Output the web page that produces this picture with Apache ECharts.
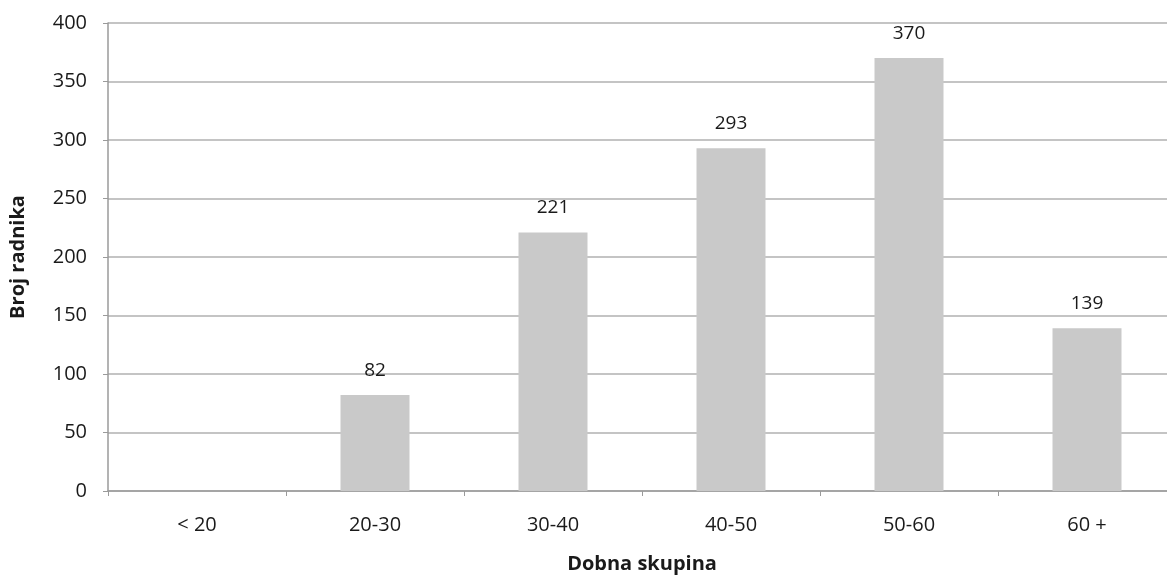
<!DOCTYPE html>
<html><head><meta charset="utf-8">
<script src="https://cdn.jsdelivr.net/npm/echarts@6/dist/echarts.min.js"></script>
<style>html,body{margin:0;padding:0;background:#fff;}#c{width:1167px;height:575px;}</style>
</head><body><div id="c"></div>
<script>
const categories = ['< 20', '20-30', '30-40', '40-50', '50-60', '60 +'];
const workers = [null, 82, 221, 293, 370, 139];
const yTicks = [0, 400, 50];
const xTitle = 'Dobna skupina';
const yTitle = 'Broj radnika';

const chart = echarts.init(document.getElementById('c'), null, {renderer: 'canvas'});
const font = 'Open Sans, Lato, sans-serif';
chart.setOption({
  animation: false,
  grid: {left: 108, top: 23, width: 1068, height: 468, outerBoundsMode: 'none', containLabel: false},
  xAxis: {
    type: 'category', data: categories,
    name: xTitle, nameLocation: 'middle', nameGap: 63,
    nameTextStyle: {fontFamily: font, fontWeight: 'bold', fontSize: 20, color: '#1a1a1a'},
    axisLine: {lineStyle: {color: '#9a9a9a', width: 1.5}},
    axisTick: {show: true, length: 5, lineStyle: {color: '#9a9a9a'}},
    axisLabel: {fontFamily: font, fontSize: 20, color: '#1a1a1a', margin: 24}
  },
  yAxis: {
    type: 'value', min: yTicks[0], max: yTicks[1], interval: yTicks[2],
    name: yTitle, nameLocation: 'middle', nameGap: 80, nameRotate: 90,
    nameTextStyle: {fontFamily: font, fontWeight: 'bold', fontSize: 20, color: '#1a1a1a'},
    axisLine: {show: true, lineStyle: {color: '#9a9a9a', width: 1.5}},
    axisTick: {show: true, length: 5, lineStyle: {color: '#9a9a9a'}},
    axisLabel: {fontFamily: font, fontSize: 20, color: '#1a1a1a', margin: 21},
    splitLine: {lineStyle: {color: '#b0b0b0', width: 1.5}}
  },
  series: [{
    type: 'bar', data: workers, barWidth: 69,
    itemStyle: {color: '#c9c9c9'},
    label: {show: true, position: 'top', distance: 15, fontFamily: font, fontSize: 19, color: '#1a1a1a'}
  }]
});
</script></body></html>
